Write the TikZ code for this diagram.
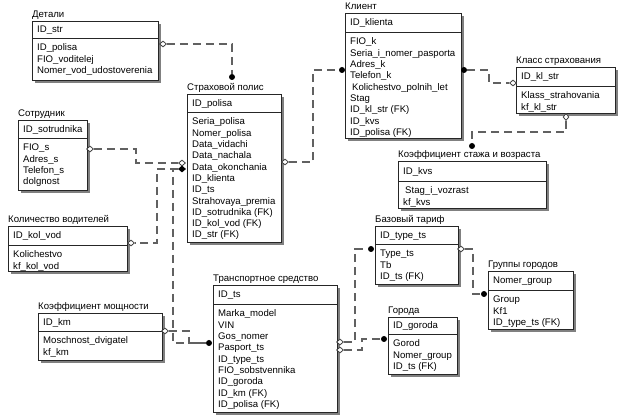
\documentclass[tikz,border=0pt]{standalone}
\usepackage{fontspec}
\setmainfont{Liberation Sans}
\usetikzlibrary{shapes.geometric}
\newcommand\erent[9]{%
  \fill[eshadow] (#2+3,#3+3) rectangle (#4+3,#6+3);
  \node[ebox, minimum width={(#4-#2)*1pt}, minimum height={(#6-#3)*1pt}] (#1) at (#2,#3) {};
  \draw[black!85, line width=0.9pt] (#2,#5) -- (#4,#5);
  \node[etxt] (#1-t) at (#2,#3-7+3.5) {#7};
  \node[etxt] (#1-h) at (#2+5,{(#3+#5)/2+3.5}) {#8};
  \foreach \f [count=\i from 0] in {#9} \node[etxt] (#1-f\i) at (#2+5,{#5+9.5+11.3*\i+3.5}) {\f};
}
\begin{document}
\begin{tikzpicture}[x=1pt,y=-1pt,
  ebox/.style={draw=black!85, line width=0.9pt, fill=white, inner sep=0pt, outer sep=0pt, anchor=north west},
  eshadow/.style={fill=black!50},
  etxt/.style={inner sep=0pt, anchor=base west, font=\fontsize{9.6}{11}\selectfont, text=black},
  conn/.style={draw=black!62, line width=1.2pt, dash pattern=on 8pt off 5pt},
  hd/.style={diamond, draw=black!75, fill=white, line width=0.8pt, minimum width=7pt, minimum height=6pt, inner sep=0pt},
  hdv/.style={hd, minimum width=6pt, minimum height=7pt},
  fd/.style={hd, fill=black, draw=black},
  dot/.style={circle, fill=black, minimum size=6pt, inner sep=0pt}]
\useasboundingbox (0,0) rectangle (624,419);
\fill[white] (0,0) rectangle (624,419);

\erent{det}{32}{21}{158}{38}{80}{Детали}{ID\_str}{ID\_polisa, FIO\_voditelej, Nomer\_vod\_udostoverenia}
\erent{pol}{187}{94}{281}{112}{242}{Страховой полис}{ID\_polisa}{Seria\_polisa, Nomer\_polisa, Data\_vidachi, Data\_nachala, Data\_okonchania, ID\_klienta, ID\_ts, Strahovaya\_premia, ID\_sotrudnika (FK), ID\_kol\_vod (FK), ID\_str (FK)}
\erent{kl}{345}{13}{461}{32}{138}{Клиент}{ID\_klienta}{FIO\_k, Seria\_i\_nomer\_pasporta, Adres\_k, Telefon\_k, \kern2pt Kolichestvo\_polnih\_let, Stag, ID\_kl\_str (FK), ID\_kvs, ID\_polisa (FK)}
\erent{kls}{516}{67}{615}{86}{113}{Класс страхования}{ID\_kl\_str}{Klass\_strahovania, kf\_kl\_str}
\erent{kvs}{398}{161}{546}{181}{208}{Коэффициент стажа и возраста}{ID\_kvs}{\kern2pt Stag\_i\_vozrast, kf\_kvs}
\erent{sot}{18}{120}{87}{138}{190}{Сотрудник}{ID\_sotrudnika}{FIO\_s, Adres\_s, Telefon\_s, dolgnost}
\erent{kol}{8}{226}{127}{245}{271}{Количество водителей}{ID\_kol\_vod}{Kolichestvo, kf\_kol\_vod}
\erent{km}{38}{313}{162}{331}{360}{Коэффициент мощности}{ID\_km}{Moschnost\_dvigatel, kf\_km}
\erent{ts}{213}{285}{337}{304}{412}{Транспортное средство}{ID\_ts}{Marka\_model, VIN, Gos\_nomer, Pasport\_ts, ID\_type\_ts, FIO\_sobstvennika, ID\_goroda, ID\_km (FK), ID\_polisa (FK)}
\erent{bt}{375}{226}{458}{244}{284}{Базовый тариф}{ID\_type\_ts}{Type\_ts, Tb, ID\_ts (FK)}
\erent{gg}{488}{271}{573}{290}{329}{Группы городов}{Nomer\_group}{Group, Kf1, ID\_type\_ts (FK)}
\erent{gor}{388}{317}{457}{334}{374}{Города}{ID\_goroda}{Gorod, Nomer\_group, ID\_ts (FK)}

% connectors
\node[hd] (s1) at (163,44) {}; \node[dot] (e1) at (232,77) {};
\draw[conn] (s1.east) -| (e1.north);
\node[hd] (s2) at (285,162) {}; \node[dot] (e2) at (342,70) {};
\draw[conn] (s2.east) -- (313,162) |- (e2.west);
\node[dot] (s3) at (464,70) {}; \node[hd] (e3) at (513,83) {};
\draw[conn] (s3.east) -- (489,70) |- (e3.west);
\node[hdv] (s4) at (566,117) {}; \node[dot] (e4) at (472,146) {};
\draw[conn] (s4.south) -- (566,132) -| (e4.north);
\node[hd] (s5) at (90,149) {}; \node[hd] (e5) at (182,163) {};
\draw[conn] (s5.east) -- (136,149) |- (e5.west);
\node[fd] (s6) at (182,169) {}; \node[dot] (e6) at (209,343) {};
\draw[conn] (s6.west) -- (173,169) |- (e6.west);
\node[hd] (e7) at (131,243) {};
\draw[conn] (s6.west) -- (157,169) |- (e7.east);
\node[hd] (s8) at (165,331) {};
\draw[conn] (s8.east) -- (189,331) |- (e6.west);
\node[hd] (s9) at (340,342) {}; \node[dot] (e9) at (371,249) {};
\draw[conn] (s9.east) -- (355,342) |- (e9.west);
\node[hd] (s10) at (340,350) {}; \node[dot] (e10) at (384,339) {};
\draw[conn] (s10.east) -- (362,350) |- (e10.west);
\node[hd] (s11) at (461,249) {}; \node[dot] (e11) at (484,294) {};
\draw[conn] (s11.east) -- (473,249) |- (e11.west);
\end{tikzpicture}
\end{document}
